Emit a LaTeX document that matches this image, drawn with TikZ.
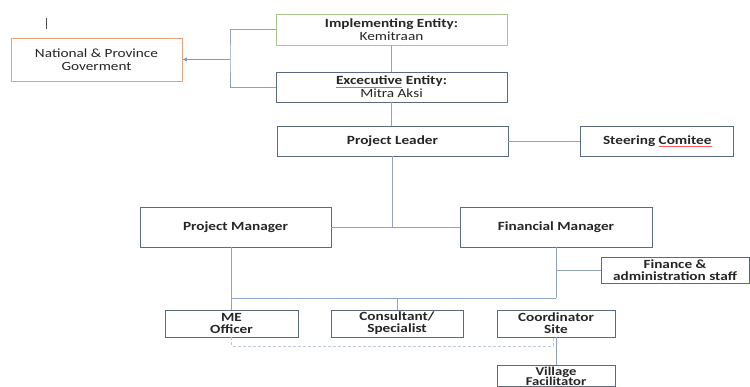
\documentclass[tikz,border=0pt]{standalone}
\usepackage{fontspec}
\setmainfont{Carlito}[FakeStretch=1.22]
\usepackage{tikz}
\usepackage{xcolor}
\usetikzlibrary{arrows.meta,calc,positioning}

\definecolor{boxline}{HTML}{5A6A80}
\definecolor{linkline}{HTML}{8FA2C4}
\definecolor{arrowblue}{HTML}{4472C4}
\definecolor{govline}{HTML}{E8A07A}
\definecolor{implline}{HTML}{A8C88A}

% red spell-check mark under a word
\newlength\spellw
\newcommand\spellmark[1]{\settowidth\spellw{#1}\rlap{\color{red!65}\rule[-2.6pt]{\spellw}{0.7pt}}#1}

\begin{document}
\begin{tikzpicture}[x=1pt,y=-1pt,font=\fontsize{12.5}{13}\selectfont]
  \tikzstyle{box}=[draw=boxline,line width=0.8pt,fill=white,align=center,inner sep=0pt,text=black!85]
  \tikzstyle{link}=[draw=linkline,line width=0.8pt]
  \tikzstyle{faint}=[draw=linkline!60,line width=0.8pt,densely dashed]
  \clip (0,0) rectangle (750,387);
  \fill[white] (0,0) rectangle (750,387);
  \draw[black!70,line width=0.6pt] (46,18) -- (46,29);

  \node[box,draw=govline,minimum width=171pt,minimum height=43pt] (gov) at (96.5,59.5) {National \& Province\\Goverment};
  \node[box,draw=implline,minimum width=231pt,minimum height=31pt] (impl) at (391.5,29.5) {\textbf{Implementing Entity:}\\Kemitraan};
  \node[box,minimum width=231pt,minimum height=30pt] (exec) at (391.5,87) {\textbf{\spellmark{Excecutive} Entity:}\\Mitra Aksi};
  \node[box,minimum width=231pt,minimum height=30pt] (leader) at (392.5,141) {\textbf{Project Leader}};
  \node[box,minimum width=153pt,minimum height=30pt] (steer) [right=72pt of leader] {\textbf{Steering \spellmark{Comitee}}};
  \node[box,minimum width=191pt,minimum height=40pt] (pm) at (235.5,227) {\textbf{Project Manager}};
  \node[box,minimum width=192pt,minimum height=40pt] (fm) at (556,227) {\textbf{Financial Manager}};
  \node[box,minimum width=148pt,minimum height=26pt,font=\fontsize{12.5}{12}\selectfont] (staff) at (675,270) {\textbf{Finance \&}\\\textbf{administration staff}};
  \node[box,minimum width=133pt,minimum height=27pt,font=\fontsize{12.5}{12}\selectfont] (me) at (231.5,323.5) {\textbf{ME}\\\textbf{Officer}};
  \node[box,minimum width=132pt,minimum height=27pt,font=\fontsize{12.5}{12}\selectfont] (cons) at (397,323.5) {\textbf{Consultant/}\\\textbf{Specialist}};
  \node[box,minimum width=118pt,minimum height=27pt,font=\fontsize{12.5}{12}\selectfont] (coord) at (556,323.5) {\textbf{Coordinator}\\\textbf{Site}};
  \node[box,anchor=north,minimum width=118pt,inner ysep=1.2pt,font=\fontsize{12}{10.5}\selectfont] (village) at (556,365) {\textbf{Village}\\\textbf{Facilitator}};

  \coordinate (split) at (230,59.5);
  \coordinate (bus) at (0,298);
  \coordinate (lowbus) at (553,346);

  \path[link] (impl.west) -| (split) |- (exec.west);
  \draw[link,-{Latex[length=4.5pt,width=4.5pt]},color=arrowblue!80,draw=linkline!80!arrowblue] (split) -- (gov.east);
  \path[link]
  (impl.south) edge (exec.north)
  (exec.south) edge (exec.south |- leader.north)
  (leader.east) edge (steer.west)
  (leader.south) edge (leader.south |- pm.east)
  (pm.east) edge (fm.west)
  (me.north |- pm.south) edge (me.north)
  (fm.south) edge (fm.south |- bus)
  (me.north |- bus) edge (fm.south |- bus)
  (fm.south |- staff.west) edge (staff.west)
  (cons.north |- bus) edge (cons.north)
  (coord.south) edge (village.north)
  ;
  \draw[faint] (me.south) |- (lowbus) -- (lowbus |- coord.south);
\end{tikzpicture}
\end{document}
